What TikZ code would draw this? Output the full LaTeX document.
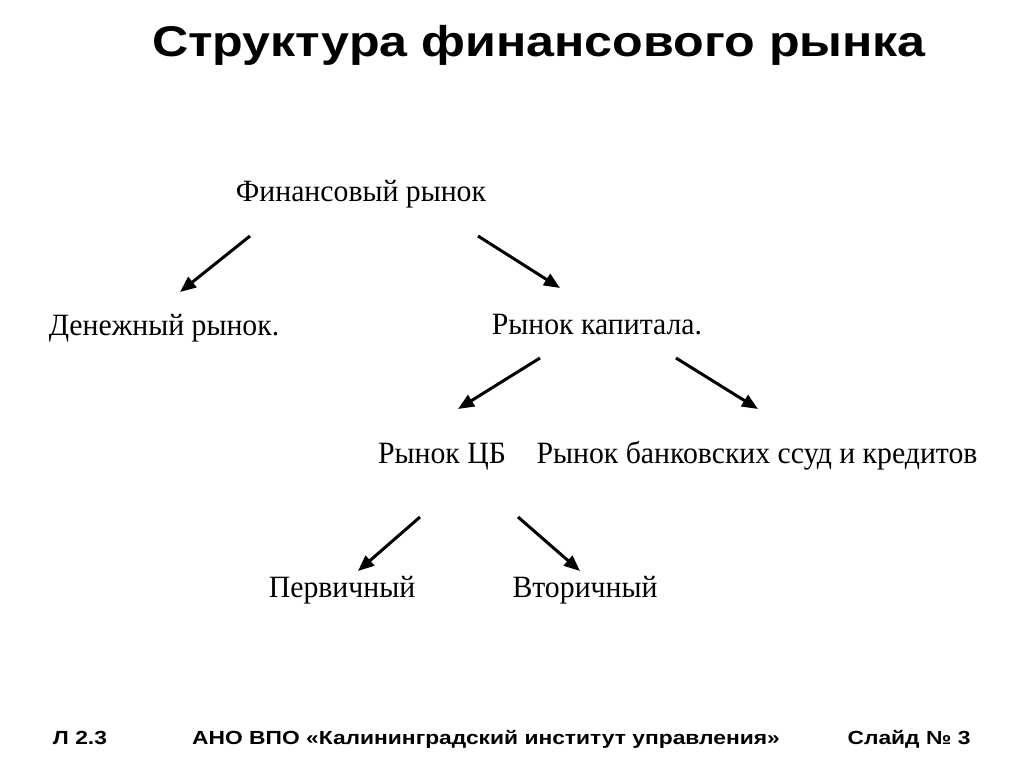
\documentclass[tikz,border=0pt]{standalone}
\usepackage{fontspec}
\setmainfont{Liberation Serif}
\newfontfamily\hdfont{Liberation Sans}
\usetikzlibrary{arrows.meta}
\newcommand{\lbltext}[1]{\scalebox{0.96}[1]{#1}}
\newcommand{\wide}[1]{\scalebox{1.2}[1]{#1}}
\begin{document}
\begin{tikzpicture}[x=1pt,y=-1pt,
  lbl/.style={inner sep=0pt, anchor=base, font=\fontsize{31}{31}\selectfont},
  arr/.style={line width=3pt, -{Triangle[length=16pt,width=13pt]}},
  foot/.style={inner sep=0pt, anchor=base, font=\hdfont\bfseries\fontsize{19}{19}\selectfont}]
\useasboundingbox[fill=white] (0,0) rectangle (1024,767);
\node[inner sep=0pt, anchor=base, font=\hdfont\bfseries\fontsize{43}{43}\selectfont] (title) at (539,57) {\scalebox{1.167}[1]{Структура финансового рынка}};
\node[lbl] (fin) at (361,202) {\lbltext{Финансовый рынок}};
\node[lbl] (den) at (164,335) {\lbltext{Денежный рынок.}};
\node[lbl] (kap) at (597,334) {\lbltext{Рынок капитала.}};
\node[lbl] (cb) at (442,463) {\lbltext{Рынок ЦБ}};
\node[lbl] (bank) at (757,463) {\lbltext{Рынок банковских ссуд и кредитов}};
\node[lbl] (perv) at (342,597) {\lbltext{Первичный}};
\node[lbl] (vtor) at (585,597) {\lbltext{Вторичный}};
\coordinate (a1s) at (250,236); \coordinate (a1e) at (180,292);
\coordinate (a2s) at (478,236); \coordinate (a2e) at (560,288);
\coordinate (a3s) at (540,358); \coordinate (a3e) at (458,409);
\coordinate (a4s) at (676,358); \coordinate (a4e) at (758,409);
\coordinate (a5s) at (420,517); \coordinate (a5e) at (358,571);
\coordinate (a6s) at (518,517); \coordinate (a6e) at (580,571);
\draw[arr] (a1s) -- (a1e);
\draw[arr] (a2s) -- (a2e);
\draw[arr] (a3s) -- (a3e);
\draw[arr] (a4s) -- (a4e);
\draw[arr] (a5s) -- (a5e);
\draw[arr] (a6s) -- (a6e);
\node[foot] (l) at (80,744) {\wide{Л 2.3}};
\node[foot] (ano) at (486,744) {\wide{АНО ВПО «Калининградский институт управления»}};
\node[foot] (sl) at (909,744) {\wide{Слайд № 3}};
\end{tikzpicture}
\end{document}
